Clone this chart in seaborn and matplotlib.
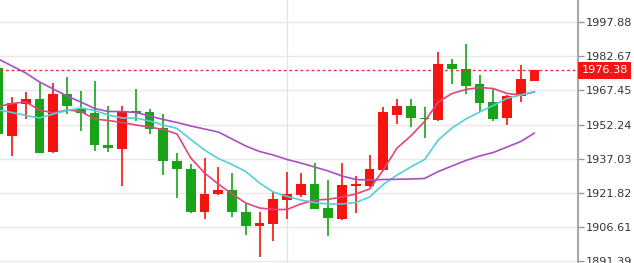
import matplotlib
matplotlib.use("Agg")
import matplotlib.pyplot as plt
import matplotlib.transforms as mtransforms
import seaborn as sns
import pandas as pd
import numpy as np

# ---- data ----
opens = [1977.29, 1947.18, 1961.41, 1963.50, 1940.06, 1965.86, 1959.50, 1957.54, 1943.04, 1941.40,
         1958.16, 1957.85, 1950.87, 1936.19, 1932.37, 1913.51, 1921.25, 1923.16, 1913.51, 1907.29,
         1908.04, 1918.72, 1920.94, 1925.70, 1915.29, 1910.27, 1924.94, 1924.94, 1932.06, 1956.52,
         1960.52, 1955.32, 1954.30, 1979.07, 1976.84, 1970.17, 1962.17, 1955.05, 1964.97, 1971.51]
highs = [1978.31, 1964.39, 1966.88, 1970.62, 1970.88, 1973.29, 1967.33, 1971.64, 1960.52, 1960.52,
         1968.22, 1959.05, 1956.96, 1939.49, 1934.73, 1937.26, 1933.53, 1930.86, 1916.94, 1913.38,
         1922.41, 1931.30, 1930.86, 1935.04, 1927.61, 1935.04, 1929.39, 1938.73, 1960.08, 1963.77,
         1963.77, 1959.94, 1984.67, 1981.29, 1987.96, 1974.31, 1968.39, 1965.20, 1978.76, 1976.38]
lows = [1947.18, 1938.42, 1954.74, 1939.40, 1939.80, 1956.96, 1949.54, 1940.38, 1940.20, 1925.08,
        1953.85, 1948.07, 1929.97, 1919.47, 1912.93, 1910.27, 1921.00, 1911.29, 1903.02, 1893.23,
        1900.62, 1910.13, 1920.18, 1914.50, 1902.71, 1909.82, 1912.80, 1924.60, 1931.80, 1952.52,
        1951.32, 1946.16, 1954.00, 1970.17, 1965.86, 1957.99, 1953.98, 1952.07, 1962.43, 1971.51]
closes = [1948.07, 1961.99, 1963.50, 1939.75, 1965.86, 1960.52, 1957.54, 1943.31, 1941.71, 1957.99,
          1957.41, 1950.29, 1936.19, 1932.64, 1913.51, 1921.52, 1923.03, 1913.38, 1907.15, 1908.35,
          1919.16, 1921.38, 1925.83, 1914.85, 1910.58, 1925.25, 1925.70, 1932.37, 1957.63, 1960.52,
          1955.18, 1954.74, 1979.07, 1976.84, 1969.42, 1961.99, 1954.61, 1964.97, 1972.40, 1976.38]

ma5 = [1960.30, 1961.63, 1962.30, 1958.74, 1957.41, 1958.74, 1958.08, 1954.74, 1954.07, 1953.18,
       1952.07, 1951.18, 1950.07, 1948.07, 1937.40, 1930.72, 1925.83, 1921.38, 1917.38, 1915.16,
       1914.49, 1914.49, 1916.94, 1918.72, 1919.03, 1920.05, 1921.38, 1923.61, 1932.06, 1941.84,
       1947.18, 1953.63, 1962.30, 1966.08, 1967.86, 1968.75, 1968.30, 1966.08, 1965.41, 1966.75]
ma10 = [1958.74, 1957.63, 1956.30, 1955.18, 1956.96, 1958.52, 1959.63, 1958.52, 1956.52, 1955.18,
        1955.18, 1953.85, 1952.07, 1950.52, 1945.62, 1940.95, 1937.17, 1934.50, 1931.39, 1926.28,
        1922.27, 1920.27, 1918.72, 1917.60, 1916.94, 1916.94, 1917.60, 1920.05, 1925.61, 1929.83,
        1933.39, 1936.73, 1945.40, 1950.74, 1954.74, 1957.85, 1960.74, 1963.95, 1965.41, 1966.97]
ma20 = [1981.42, 1978.31, 1975.20, 1971.20, 1968.08, 1964.97, 1962.30, 1959.41, 1958.08, 1958.08,
        1957.63, 1956.07, 1954.52, 1953.18, 1951.63, 1950.29, 1948.96, 1945.85, 1942.73, 1940.29,
        1938.73, 1936.73, 1935.17, 1933.39, 1931.61, 1929.39, 1927.83, 1927.61, 1927.83, 1927.92,
        1928.06, 1928.28, 1931.39, 1933.84, 1936.28, 1938.28, 1939.84, 1942.29, 1944.73, 1948.51]

tick_values = [1997.88, 1982.67, 1967.45, 1952.24, 1937.03, 1921.82, 1906.61, 1891.39]
tick_labels = ["1997.88", "1982.67", "1967.45", "1952.24", "1937.03", "1921.82", "1906.61", "1891.39"]
last_price = 1976.38
last_label = "1976.38"

# ---- style ----
sns.set_theme(style="white")
plt.rcParams['font.family'] = ['DejaVu Sans']

RED = "#f5140f"
GREEN = "#18a318"

fig = plt.figure(figsize=(6.34, 2.63), dpi=100)
ax = fig.add_axes([0, 0, 578 / 634, 1])

o = np.array(opens); h = np.array(highs); l = np.array(lows); c = np.array(closes)
idx = np.arange(len(o))
up = c >= o
cols = np.where(up, RED, GREEN)

# grid
for tv in tick_values:
    ax.axhline(tv, color="#e8e8e8", lw=1.0, zorder=0)
ax.axvline(21, color="#dde6ee", lw=1.0, zorder=0)

# candles
ax.vlines(idx, l, h, colors=cols, linewidth=1.2, zorder=2)
body_h = np.maximum(np.abs(c - o), 0.55)
ax.bar(idx, body_h, bottom=np.minimum(o, c), width=0.72, color=cols, linewidth=0, zorder=3)

# moving averages via seaborn
ma_df = pd.DataFrame({
    "idx": np.concatenate([idx, idx, idx]),
    "value": np.concatenate([ma5, ma10, ma20]),
    "ma": ["MA5"] * len(idx) + ["MA10"] * len(idx) + ["MA20"] * len(idx),
})
sns.lineplot(data=ma_df, x="idx", y="value", hue="ma",
             palette={"MA5": "#e2457c", "MA10": "#52cfd8", "MA20": "#a650c4"},
             legend=False, linewidth=1.2, ax=ax, zorder=4, sort=False)

# last price line
ax.axhline(last_price, color="#f03030", lw=1.0, ls=(0, (2, 2)), zorder=5)

ax.set_xlim(0.124, 42.16)
ax.set_ylim(1890.70, 2007.66)
ax.set_xlabel("")
ax.set_ylabel("")
ax.set_xticks([])

ax.yaxis.tick_right()
ax.set_yticks(tick_values)
ax.set_yticklabels(tick_labels)
ax.tick_params(axis="y", direction="out", length=4, width=1, color="#999999",
               labelsize=8.1, labelcolor="#333333", pad=1.5, right=True, left=False)
for s in ["top", "left", "bottom"]:
    ax.spines[s].set_visible(False)
ax.spines["right"].set_color("#a8a8a8")
ax.spines["right"].set_linewidth(1.5)

trans = mtransforms.blended_transform_factory(ax.transAxes, ax.transData)
ax.text(1.006, last_price, last_label, transform=trans, ha="left", va="center",
        fontsize=8.1, color="white", zorder=10, clip_on=False,
        bbox=dict(boxstyle="square,pad=0.3", facecolor=RED, edgecolor="none"))

fig.savefig("out.png", dpi=100)
